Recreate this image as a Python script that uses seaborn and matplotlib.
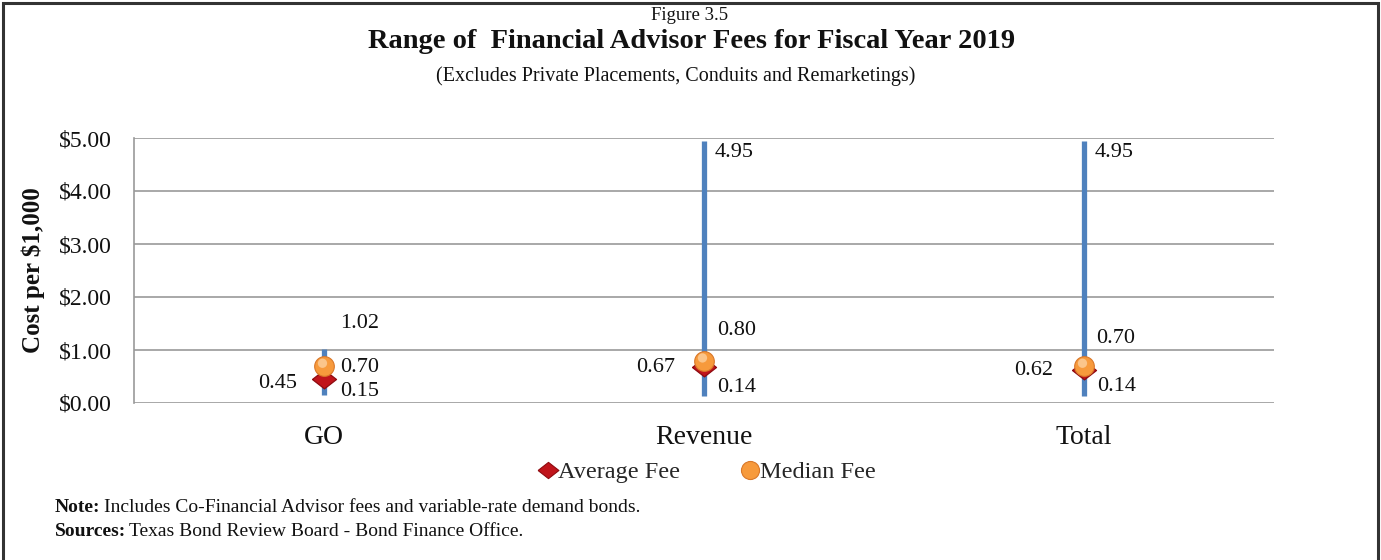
import matplotlib
matplotlib.use("Agg")
import matplotlib.pyplot as plt
from matplotlib.lines import Line2D
from matplotlib.patches import Rectangle
import numpy as np
import pandas as pd
import seaborn as sns

# Fee ranges per bond type (cost per $1,000 of par)
categories = ["GO", "Revenue", "Total"]
low_fee = [0.15, 0.14, 0.14]
high_fee = [1.02, 4.95, 4.95]
median_fee = [0.70, 0.80, 0.70]
average_fee = [0.45, 0.67, 0.62]

sns.set_theme(style="white")
plt.rcParams["font.family"] = ["Liberation Serif", "DejaVu Serif"]

BLUE = "#4F81BD"
RED = "#C0141B"
RED_EDGE = "#8E0B10"
ORANGE = "#F79A3C"
ORANGE_EDGE = "#D9782A"
GRID = "#999999"
INK = "#111111"

W, H = 1381, 560
fig = plt.figure(figsize=(W / 100, H / 100), dpi=100)
ax = fig.add_axes([134 / W, 1 - 403 / H, (1274 - 134) / W, (403 - 138) / H])

xpos = np.arange(len(categories))
df = pd.DataFrame({
    "x": xpos,
    "category": categories,
    "low": low_fee,
    "high": high_fee,
    "median": median_fee,
    "average": average_fee,
})

# high-low range lines
ax.vlines(df["x"], df["low"], df["high"], color=BLUE, linewidth=3.8, zorder=3)

# flattened diamond for the average fee
diamond = [(-1.0, 0.0), (0.0, 0.78), (1.0, 0.0), (0.0, -0.78), (-1.0, 0.0)]
sns.scatterplot(data=df, x="x", y="average", ax=ax, marker=diamond, s=300,
                color=RED, edgecolor=RED_EDGE, linewidth=0.9, zorder=4, legend=False)
sns.scatterplot(data=df, x="x", y="median", ax=ax, marker="o", s=200,
                color=ORANGE, edgecolor=ORANGE_EDGE, linewidth=0.8, zorder=5, legend=False)
# soft highlight on the median marker
ax.scatter(df["x"] - 0.004, df["median"] + 0.05, marker="o", s=45,
           color="#FBC58A", edgecolor="none", zorder=6)

ax.set_xlim(-0.5, len(categories) - 0.5)
ax.set_ylim(0, 5)
yt = np.arange(0, 5.01, 1)
ax.set_yticks(yt)
ax.set_yticklabels([f"${v:.2f}" for v in yt])
ax.set_xticks(xpos)
ax.set_xticklabels(categories)
ax.tick_params(axis="y", length=0, pad=16, labelsize=17, labelcolor=INK)
ax.tick_params(axis="x", length=0, pad=16, labelsize=20, labelcolor=INK)
ax.yaxis.grid(True, color=GRID, linewidth=1.2)
ax.set_axisbelow(True)
for side in ("top", "right", "bottom"):
    ax.spines[side].set_visible(False)
ax.spines["left"].set_color(GRID)
ax.spines["left"].set_linewidth(1.2)
ax.set_xlabel("")
ax.set_ylabel("Cost per $1,000", fontsize=18, fontweight="bold", labelpad=10, color=INK)

# data labels (pixel offsets from each mark)
lbl = dict(fontsize=16, color=INK, textcoords="offset pixels", va="center")
high_off = [(16, 25), (11, -12), (11, -12)]
med_off = [(16, -2), (13, 30), (12, 27)]
low_off = [(16, 4), (13, 8), (13, 9)]
avg_off = [(-27, -4), (-29, 0), (-31, 0)]
for i, row in df.iterrows():
    ax.annotate(f"{row['high']:.2f}", (row["x"], row["high"]), xytext=high_off[i], ha="left", **lbl)
    ax.annotate(f"{row['median']:.2f}", (row["x"], row["median"]), xytext=med_off[i], ha="left", **lbl)
    ax.annotate(f"{row['low']:.2f}", (row["x"], row["low"]), xytext=low_off[i], ha="left", **lbl)
    ax.annotate(f"{row['average']:.2f}", (row["x"], row["average"]), xytext=avg_off[i], ha="right", **lbl)

# titles
fig.text(690 / W, 1 - 16 / H, "Figure 3.5", ha="center", va="center", fontsize=13.5, color=INK)
fig.text(692 / W, 1 - 42 / H, "Range of  Financial Advisor Fees for Fiscal Year 2019",
         ha="center", va="center", fontsize=20.5, fontweight="bold", color=INK)
fig.text(676 / W, 1 - 76 / H, "(Excludes Private Placements, Conduits and Remarketings)",
         ha="center", va="center", fontsize=14.5, color=INK)

# legend
handles = [
    Line2D([], [], linestyle="none", marker=diamond, markersize=15, markerfacecolor=RED,
           markeredgecolor=RED_EDGE, markeredgewidth=0.8, label="Average Fee"),
    Line2D([], [], linestyle="none", marker="o", markersize=13, markerfacecolor=ORANGE,
           markeredgecolor=ORANGE_EDGE, markeredgewidth=0.8, label="Median Fee"),
]
fig.legend(handles=handles, loc="center", bbox_to_anchor=(708 / W, 1 - 472 / H), ncol=2,
           frameon=False, fontsize=17.5, handlelength=0.6, handletextpad=0.1, columnspacing=2.6,
           borderpad=0.1)

# notes with bold lead words
fig.canvas.draw()
renderer = fig.canvas.get_renderer()

def note_line(y_px, head, body):
    t = fig.text(55 / W, 1 - y_px / H, head, ha="left", va="center", fontsize=14,
                 fontweight="bold", color=INK)
    bb = t.get_window_extent(renderer=renderer)
    fig.text((bb.x1 + 3) / W, 1 - y_px / H, body, ha="left", va="center", fontsize=14,
             color=INK)

note_line(508, "Note:", "Includes Co-Financial Advisor fees and variable-rate demand bonds.")
note_line(531, "Sources:", "Texas Bond Review Board - Bond Finance Office.")

# outer frame
fig.patches.append(Rectangle((0.0025, -0.02), 0.9955, 1.0145, transform=fig.transFigure,
                             fill=False, edgecolor="#333333", linewidth=2.2))

fig.savefig("out.png", dpi=100)
